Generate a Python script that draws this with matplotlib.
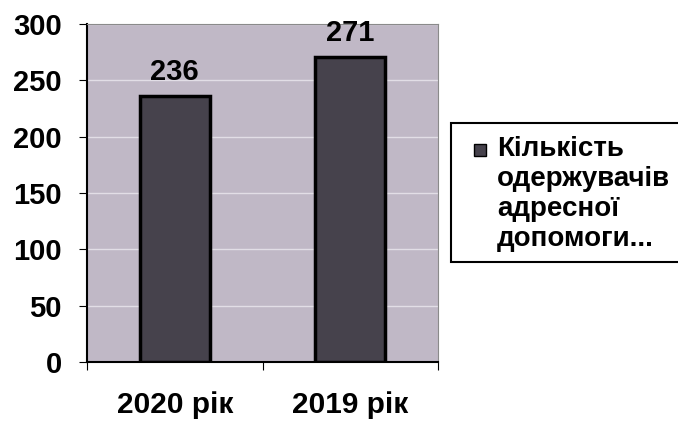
import matplotlib.pyplot as plt
from matplotlib.patches import Rectangle

plt.rcParams['font.family'] = ['Liberation Sans', 'DejaVu Sans']
plt.rcParams['font.weight'] = 'bold'

years = ['2020 рік', '2019 рік']
recipients = [236, 271]
series_name = 'Кількість\nодержувачів\nадресної\nдопомоги...'

W, H = 678, 425
fig = plt.figure(figsize=(W / 100, H / 100), dpi=100)
ax = fig.add_axes([87 / W, 1 - 362 / H, 351 / W, 338 / H])
ax.set_facecolor('#c0b8c6')

bar_color = '#46424c'
x = range(len(years))
ax.bar(x, recipients, width=0.4, color=bar_color, edgecolor='black', linewidth=2.5, zorder=3)
for i, v in zip(x, recipients):
    ax.text(i, v + 9, str(v), ha='center', va='bottom', fontsize=21, fontweight='bold')

ax.set_xlim(-0.5, 1.5)
ax.set_ylim(0, 300)
ax.set_yticks(range(0, 301, 50))
ax.set_xticks([-0.5, 0.5, 1.5])
ax.set_xticklabels([])
ax.set_xticks(list(x), minor=True)
ax.set_xticklabels(years, minor=True)
ax.tick_params(axis='x', which='minor', length=0, pad=21, labelsize=21.5)
ax.tick_params(axis='x', which='major', length=6, direction='out')
ax.tick_params(axis='y', labelsize=21, length=6, pad=12)
ax.grid(axis='y', color='#e2dee6', linewidth=1, zorder=1)

for s in ['top', 'right']:
    ax.spines[s].set_color('#8a8a8a')
for s in ['left', 'bottom']:
    ax.spines[s].set_color('black')
    ax.spines[s].set_linewidth(1.5)

# legend box drawn by hand so the marker sits on the first line
fig.patches.append(Rectangle((451 / W, 1 - 262 / H), 240 / W, 139 / H,
                             transform=fig.transFigure, facecolor='white',
                             edgecolor='black', linewidth=1.5, clip_on=False))
fig.patches.append(Rectangle((474 / W, 1 - 156 / H), 12 / W, 12 / H,
                             transform=fig.transFigure, facecolor=bar_color,
                             edgecolor='black', linewidth=1))
fig.text(497 / W, 1 - 136 / H, series_name, ha='left', va='top',
         fontsize=20, fontweight='bold', linespacing=1.2)

plt.savefig('out.png', dpi=100)
